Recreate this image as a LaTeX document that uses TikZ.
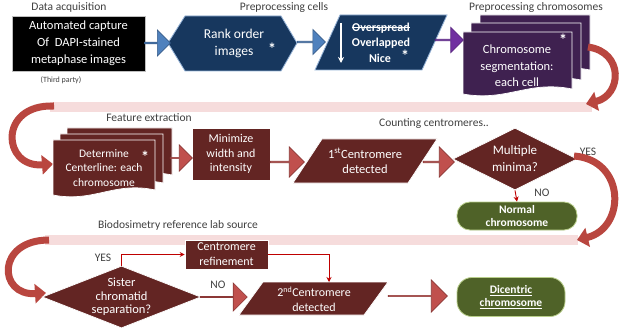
\documentclass[tikz,border=0pt]{standalone}
\usepackage{fontspec}
\setmainfont{Carlito}
\usetikzlibrary{shapes.geometric,shapes.arrows,arrows.meta}
\definecolor{dkred}{HTML}{632523}
\definecolor{arrred}{HTML}{C0504D}
\definecolor{arrredb}{HTML}{8C3836}
\definecolor{curvred}{HTML}{B9463F}
\definecolor{dkblue}{HTML}{17375E}
\definecolor{arrblue}{HTML}{4F81BD}
\definecolor{arrblueb}{HTML}{385D8A}
\definecolor{dkpurp}{HTML}{3F2150}
\definecolor{arrpurp}{HTML}{7030A0}
\definecolor{arrpurpb}{HTML}{5A2682}
\definecolor{grn}{HTML}{4F6228}
\definecolor{grnb}{HTML}{9BBB59}
\definecolor{pinkband}{HTML}{F6DCDC}
\definecolor{lblgray}{HTML}{404040}
\newcommand\docshape[5]{%
  \filldraw[fill=#5, draw=white, line width=0.7pt]
    (#1,#2) -- ({#1+#3},#2) -- ({#1+#3},{#2+#4-5})
    .. controls ({#1+0.6*#3},{#2+#4-14}) and ({#1+0.4*#3},{#2+#4+8}) .. (#1,{#2+#4}) -- cycle;}
\tikzset{
  lbl/.style={text=lblgray, font=\fontsize{11.5}{13}\selectfont, inner sep=0pt},
  wtxt/.style={text=white, align=center, inner sep=0pt},
  rowtxt/.style={wtxt, font=\fontsize{12}{14.5}\selectfont},
  blockarrow/.style={single arrow, inner sep=0pt, line width=0.7pt, single arrow head extend=#1},
  redarrow/.style={blockarrow=#1, fill=arrred, draw=arrredb},
  bluearrow/.style={blockarrow=#1, fill=arrblue, draw=arrblueb},
  curvarrow/.style={draw=curvred, line width=7pt, -{Triangle[width=19pt,length=11pt]}},
  thinred/.style={draw=red!75!black, line width=0.9pt, -{Stealth[length=5pt,width=5pt]}},
  greenbox/.style={rounded corners=13pt, fill=grn, draw=grnb!70!white, line width=0.8pt, text=white, align=center, font=\fontsize{11.5}{13.5}\selectfont\bfseries, inner sep=0pt},
  starmark/.style={text=white, font=\fontsize{16}{16}\selectfont\bfseries, inner sep=0pt}
}
\begin{document}
\begin{tikzpicture}[x=1pt,y=-1pt]
\useasboundingbox (0,0) rectangle (622,329);
\fill[white] (0,0) rectangle (622,329);
% pink bands
\fill[pinkband] (50,102) rectangle (592,112);
\fill[pinkband] (45,235) rectangle (578,245);

% labels
\node[lbl] (lacq) at (69,7) {Data acquisition};
\node[lbl] (lcells) at (284,7) {Preprocessing cells};
\node[lbl] (lchrom) at (536,7) {Preprocessing chromosomes};
\node[lbl, font=\fontsize{8}{9}\selectfont] (lthird) at (61,80) {(Third party)};
\node[lbl] (lfeat) at (149,118) {Feature extraction};
\node[lbl] (lcount) at (434,124) {Counting centromeres..};
\node[lbl] (lbio) at (178,225) {Biodosimetry reference lab source};

% row 1
\node[fill=black, draw=gray!50, line width=0.8pt, minimum width=133pt, minimum height=55pt,
  wtxt, font=\fontsize{12.5}{17}\selectfont] (acq) at (78.5,43.5)
  {Automated capture\\Of\ \ DAPI-stained\\metaphase images};
\filldraw[fill=dkblue, draw=arrblue!60!white, line width=0.8pt]
  (168,43) -- (185,16) -- (281,16) -- (297,43) -- (281,71) -- (185,71) -- cycle;
\node[wtxt, font=\fontsize{13.5}{17}\selectfont] (hex) at (234,43) {Rank order\\images};
\node[starmark] (s1) at (272,49) {*};
\filldraw[fill=dkblue, draw=arrblue!60!white, line width=0.8pt]
  (315,70) -- (340,15) -- (447,15) -- (422,70) -- cycle;
\node[wtxt, font=\fontsize{12}{12}\selectfont\bfseries] (ovs) at (381,28) {Overspread};
\draw[white, line width=0.8pt] ([yshift=0.8pt]ovs.west) -- ([yshift=0.8pt]ovs.east);
\node[wtxt, font=\fontsize{12}{12}\selectfont\bfseries] (ovl) at (381,43) {Overlapped};
\node[wtxt, font=\fontsize{12}{12}\selectfont\bfseries] (nice) at (380,58) {Nice};
\node[starmark] (s2) at (405,56) {*};
\coordinate (dtop) at (341,23);
\coordinate (dbot) at (341,63);
\draw[white, line width=1.1pt, -{Stealth[length=6pt,width=6pt]}] (dtop) -- (dbot);
\docshape{480}{15}{110}{60}{dkpurp}
\docshape{471}{23}{110}{62}{dkpurp}
\docshape{463}{32}{109}{62}{dkpurp}
\node[wtxt, font=\fontsize{12.5}{16.5}\selectfont] (seg) at (517,66) {Chromosome\\segmentation:\\each cell};
\node[starmark] (s3) at (563,40) {*};

\node[bluearrow=5.5pt, minimum height=26pt, minimum width=26pt] (a1) at (157,43) {};
\node[bluearrow=5.5pt, minimum height=28pt, minimum width=25pt] (a2) at (311,42) {};
\node[blockarrow=6pt, fill=arrpurp, draw=arrpurpb, minimum height=28pt, minimum width=25pt] (a3) at (449,40) {};

% curved arrows
\coordinate (c1s) at (588,47);
\coordinate (c1e) at (586,104);
\draw[curvarrow] (c1s) .. controls (624,52) and (622,95) .. (c1e);
\coordinate (c2s) at (54,106);
\coordinate (c2e) at (53,164);
\draw[curvarrow] (c2s) .. controls (-2,104) and (2,168) .. (c2e);

% row 2
\docshape{67}{128}{105}{52}{dkred}
\docshape{60}{134}{103}{54}{dkred}
\docshape{53}{140}{102}{55}{dkred}
\node[rowtxt, font=\fontsize{11.5}{14.5}\selectfont] (det) at (104,168) {Determine\\Centerline: each\\chromosome};
\node[starmark] (s4) at (145,157) {*};
\node[fill=dkred, draw=white, line width=0.7pt, minimum width=78pt, minimum height=52pt, rowtxt] (minw) at (231,154) {Minimize\\width and\\intensity};
\filldraw[fill=dkred, draw=white, line width=0.7pt] (293,183) -- (322,139) -- (437,139) -- (408,183) -- cycle;
\node[rowtxt, font=\fontsize{12.5}{15.5}\selectfont] (cen1) at (365,161) {1\textsuperscript{st}Centromere\\detected};
\node[diamond, fill=dkred, draw=white, line width=0.7pt, minimum width=124pt, minimum height=62pt, aspect=2, inner sep=0pt, rowtxt, font=\fontsize{13}{17}\selectfont] (d1) at (515,159) {Multiple\\minima?};
\node[redarrow=7pt, minimum height=22pt, minimum width=26pt] (a4) at (181,158) {};
\node[redarrow=7.5pt, minimum height=34pt, minimum width=30pt] (a5) at (287,162) {};
\node[redarrow=7.5pt, minimum height=31pt, minimum width=30pt] (a6) at (438.5,162) {};
\node[lbl] (yes1) at (588,152) {YES};
\node[lbl] (no1) at (542,193) {NO};
\node[greenbox, minimum width=120pt, minimum height=28pt] (normal) at (517,216) {Normal\\chromosome};
\draw[thinred] (d1.south) -- (normal.north);
\coordinate (c3s) at (574,156);
\coordinate (c3e) at (577,240);
\draw[curvarrow] (c3s) .. controls (626,160) and (626,228) .. (c3e);
\coordinate (c4s) at (49,240);
\coordinate (c4e) at (46,293);
\draw[curvarrow] (c4s) .. controls (-4,240) and (-2,296) .. (c4e);

% row 3
\node[diamond, fill=dkred, draw=white, line width=0.7pt, minimum width=157pt, minimum height=62pt, aspect=2.6, inner sep=0pt, rowtxt, font=\fontsize{12.5}{13.7}\selectfont] (d2) at (121.5,297) {Sister\\chromatid\\separation?};
\node[fill=dkred, draw=white, line width=0.7pt, minimum width=83pt, minimum height=29pt, rowtxt, font=\fontsize{12}{15}\selectfont] (refine) at (226.5,254.5) {Centromere\\refinement};
\filldraw[fill=dkred, draw=white, line width=0.7pt] (239,315) -- (263,282) -- (388,282) -- (364,315) -- cycle;
\node[rowtxt, font=\fontsize{12}{14.5}\selectfont] (cen2) at (314,299) {2\textsuperscript{nd}Centromere\\detected};
\coordinate (p3top) at (329,282);
\node[redarrow=9.5pt, minimum height=47pt, minimum width=28pt] (a7) at (223.5,297) {};
\node[redarrow=8.5pt, minimum height=59pt, minimum width=32pt] (a8) at (417.5,296) {};
\node[greenbox, rounded corners=15pt, minimum width=108pt, minimum height=39pt] (dic) at (511,297) {\underline{Dicentric}\\\underline{chromosome}};
\node[lbl] (yes2) at (103,258) {YES};
\node[lbl] (no2) at (218,285) {NO};
\draw[thinred] (d2.north) |- (refine.west);
\draw[thinred] (refine.east) -| (p3top);
\end{tikzpicture}
\end{document}
